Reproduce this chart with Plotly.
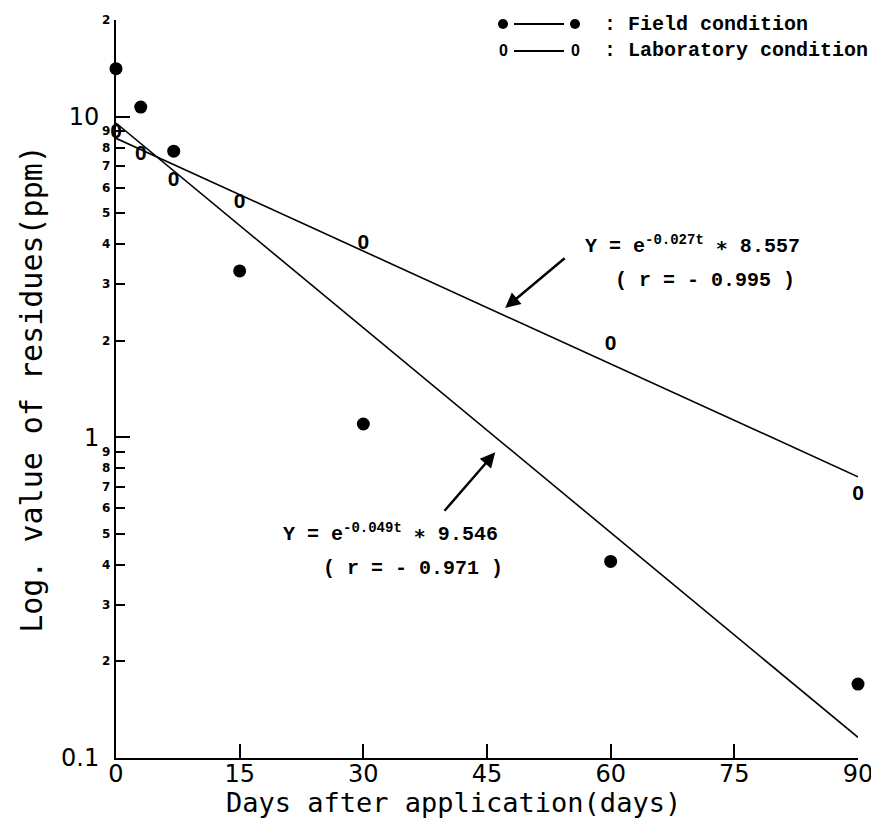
import math
import plotly.graph_objects as go

# ---- data ----
days = [0, 3, 7, 15, 30, 60, 90]
field_ppm = [14.1, 10.7, 7.8, 3.3, 1.1, 0.41, 0.17]
lab_ppm = [8.9, 7.6, 6.3, 5.4, 4.0, 1.95, 0.66]

fit_days = [0, 90]
field_fit = [9.546, 0.116]   # Y = e^(-0.049t) * 9.546
lab_fit = [8.557, 0.753]     # Y = e^(-0.027t) * 8.557

x_ticks = [0, 15, 30, 45, 60, 75, 90]
y_major = [0.1, 1, 10]
y_major_text = ["0.1", "1", "10"]
y_minor = [0.2, 0.3, 0.4, 0.5, 0.6, 0.7, 0.8, 0.9, 2, 3, 4, 5, 6, 7, 8, 9, 20]
y_minor_text = ["2", "3", "4", "5", "6", "7", "8", "9",
                "2", "3", "4", "5", "6", "7", "8", "9", "2"]

THIN = "DejaVu Sans ExtraLight, DejaVu Sans, Liberation Sans, sans-serif"
TITLE = "DejaVu Sans Mono, monospace"
MONO = "Liberation Mono, DejaVu Sans Mono, monospace"
ZERO = "Liberation Sans, Arial, sans-serif"

fig = go.Figure()

# fitted lines
fig.add_trace(go.Scatter(x=fit_days, y=field_fit, mode="lines",
                         line=dict(color="black", width=1.6), showlegend=False,
                         cliponaxis=False))
fig.add_trace(go.Scatter(x=fit_days, y=lab_fit, mode="lines",
                         line=dict(color="black", width=1.6), showlegend=False,
                         cliponaxis=False))
# field points
fig.add_trace(go.Scatter(x=days, y=field_ppm, mode="markers",
                         marker=dict(color="black", size=13, line=dict(width=0)),
                         showlegend=False, cliponaxis=False))
# laboratory points drawn as "0"
fig.add_trace(go.Scatter(x=days, y=lab_ppm, mode="text",
                         text=["0"] * len(days), textposition="middle center",
                         textfont=dict(family=ZERO, size=21, color="black", weight="bold"),
                         showlegend=False, cliponaxis=False))

W, H = 879, 820
L, R, T, B = 108, 29, 12, 70
pw, ph = W - L - R, H - T - B

def px(xp):
    return (xp - L) / pw

def py(yp):
    return (H - B - yp) / ph

annotations = []
# small minor-digit labels on the y axis
for v, t in zip(y_minor, y_minor_text):
    annotations.append(dict(x=0, xref="paper", y=math.log10(v), yref="y",
                            text=t, showarrow=False, xanchor="center", yanchor="middle",
                            xshift=-10,
                            font=dict(family="DejaVu Sans, sans-serif", size=12,
                                      color="black", weight="bold")))

EQF = dict(family=MONO, size=20, color="black", weight="bold")
SUP = "<sup>{}</sup>"
# equations
annotations += [
    dict(x=px(575), y=py(237), xref="paper", yref="paper", xanchor="left", yanchor="middle",
         text="Y = e" + SUP.format("-0.027t") + " ∗ 8.557", showarrow=False, font=EQF),
    dict(x=px(605), y=py(272), xref="paper", yref="paper", xanchor="left", yanchor="middle",
         text="( r = - 0.995 )", showarrow=False, font=EQF),
    dict(x=px(273), y=py(525), xref="paper", yref="paper", xanchor="left", yanchor="middle",
         text="Y = e" + SUP.format("-0.049t") + " ∗ 9.546", showarrow=False, font=EQF),
    dict(x=px(313), y=py(560), xref="paper", yref="paper", xanchor="left", yanchor="middle",
         text="( r = - 0.971 )", showarrow=False, font=EQF),
]
# arrows
annotations += [
    dict(x=47.2, y=math.log10(2.53), xref="x", yref="y", text="", showarrow=True,
         ax=61, ay=-51, arrowhead=2, arrowsize=1.2, arrowwidth=2.5, arrowcolor="black"),
    dict(x=46.0, y=math.log10(0.898), xref="x", yref="y", text="", showarrow=True,
         ax=-52, ay=60, arrowhead=2, arrowsize=1.2, arrowwidth=2.5, arrowcolor="black"),
]
# legend text
LEG_Y = (16, 43)
legend_rows = [(LEG_Y[0], "Field condition"), (LEG_Y[1], "Laboratory condition")]
for yy, label in legend_rows:
    annotations.append(dict(x=px(594), y=py(yy), xref="paper", yref="paper", xanchor="left",
                            yanchor="middle", text=": " + label, showarrow=False,
                            font=dict(family=MONO, size=20, color="black", weight="bold")))
# laboratory legend "0" marks
for xx in (495, 567):
    annotations.append(dict(x=px(xx), y=py(LEG_Y[1]), xref="paper", yref="paper",
                            xanchor="center", yanchor="middle", text="0", showarrow=False,
                            font=dict(family=ZERO, size=16, color="black", weight="bold")))
# x-axis title
annotations.append(dict(x=px(445), y=0, xref="paper", yref="paper", xanchor="center",
                        yanchor="middle", yshift=-44, showarrow=False,
                        text="Days after application(days)",
                        font=dict(family=TITLE, size=27, color="black")))

shapes = []
for yy in LEG_Y:
    shapes.append(dict(type="line", xref="paper", yref="paper", x0=px(506), x1=px(556),
                       y0=py(yy), y1=py(yy), line=dict(color="black", width=2)))
for xx in (495, 567):
    shapes.append(dict(type="circle", xref="paper", yref="paper", xsizemode="pixel",
                       ysizemode="pixel", xanchor=px(xx), yanchor=py(LEG_Y[0]),
                       x0=-5, x1=5, y0=-5, y1=5, fillcolor="black",
                       line=dict(color="black", width=0)))

fig.update_layout(
    width=W, height=H,
    margin=dict(l=L, r=R, t=T, b=B, autoexpand=False),
    plot_bgcolor="white", paper_bgcolor="white",
    showlegend=False,
    annotations=annotations,
    shapes=shapes,
    xaxis=dict(range=[0, 90], tickvals=x_ticks, ticks="inside", ticklen=14,
               tickwidth=2, tickcolor="black", showline=True, linecolor="black",
               linewidth=2, showgrid=False, zeroline=False, ticklabelstandoff=-7,
               tickfont=dict(family=THIN, size=24, color="black")),
    yaxis=dict(type="log", range=[-1, math.log10(20)], tickvals=y_major,
               ticktext=y_major_text, ticks="inside", ticklen=14, tickwidth=2,
               tickcolor="black", showline=True, linecolor="black", linewidth=2,
               showgrid=False, zeroline=False, ticklabelstandoff=10,
               tickfont=dict(family=THIN, size=24, color="black"),
               minor=dict(tickvals=y_minor, ticks="inside", ticklen=9, tickwidth=2,
                          tickcolor="black", showgrid=False),
               title=dict(text="Log. value of residues(ppm)", standoff=10,
                          font=dict(family=TITLE, size=30, color="black"))),
)

fig.write_html("out.html")
